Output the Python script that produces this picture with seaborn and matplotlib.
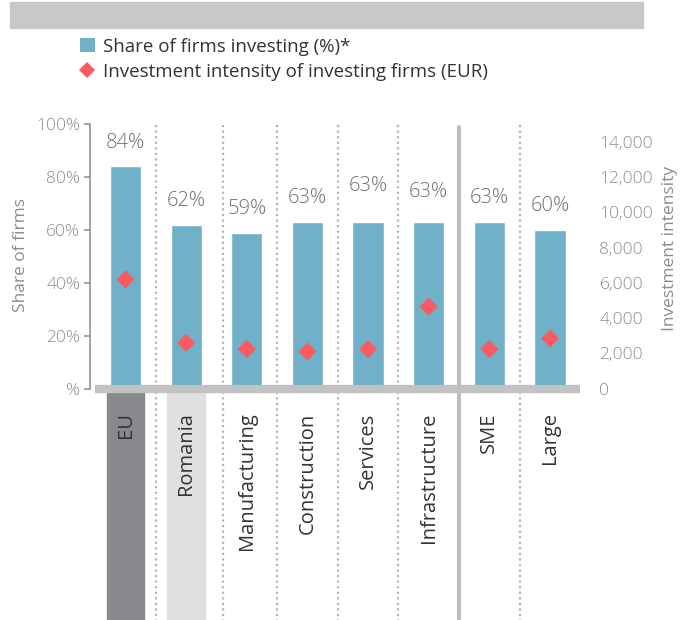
import numpy as np
import pandas as pd
import matplotlib
matplotlib.use('Agg')
import matplotlib.pyplot as plt
import matplotlib.transforms as mtransforms
from matplotlib.patches import Rectangle, Patch
from matplotlib.lines import Line2D
import seaborn as sns

# Dados do gráfico
categories = ['EU', 'Romania', 'Manufacturing', 'Construction', 'Services',
              'Infrastructure', 'SME', 'Large']
share_investing = [84, 62, 59, 63, 63, 63, 63, 60]
intensity = [6200, 2600, 2250, 2100, 2250, 4650, 2250, 2850]
left_ticks = [0, 20, 40, 60, 80, 100]
left_tick_labels = ['%', '20%', '40%', '60%', '80%', '100%']
right_ticks = [0, 2000, 4000, 6000, 8000, 10000, 12000, 14000]
# deslocamento vertical dos rótulos (pontos)
label_offsets = [17, 17, 17, 17, 26, 21.5, 17, 17]

bar_color = '#70B0C8'
diamond_color = '#FA5A60'
axis_grey = '#C2C2C2'
tick_grey = '#8C8C8C'

df = pd.DataFrame({'category': categories, 'share': share_investing, 'intensity': intensity})

sns.set_style('white')
plt.rcParams['font.family'] = ['Open Sans', 'DejaVu Sans']
plt.rcParams['font.weight'] = 'light'

fig = plt.figure(figsize=(6.82, 6.2), dpi=100)
ax = fig.add_axes([0.132, 0.373, 0.7185, 0.427])

sns.barplot(data=df, x='category', y='share', color=bar_color, width=0.516,
            saturation=1, ax=ax)
ax.set_ylim(0, 100)
ax.set_xlim(-0.585, 7.495)

# Rótulos das barras
for i, (v, off) in enumerate(zip(share_investing, label_offsets)):
    ax.annotate(f'{v}%', (i, v), xytext=(0, off), textcoords='offset points',
                ha='center', va='center', fontsize=14.5, color='#707070')

# Eixo esquerdo
for s in ['top', 'right']:
    ax.spines[s].set_visible(False)
ax.spines['left'].set_color(tick_grey)
ax.spines['left'].set_linewidth(1.1)
ax.spines['bottom'].set_color(axis_grey)
ax.spines['bottom'].set_linewidth(6)
ax.spines['bottom'].set_capstyle('butt')
ax.spines['bottom'].set_bounds(-0.5, 7.5)
ax.set_yticks(left_ticks)
ax.set_yticklabels(left_tick_labels)
ax.tick_params(axis='y', colors=tick_grey, labelsize=12.5, direction='out',
               length=4, width=1.1, left=True, pad=3)
ax.set_ylabel('Share of firms', color=tick_grey, fontsize=12.5)
ax.yaxis.set_label_coords(-0.125, 0.505)
ax.set_xlabel('')
ax.set_xticks(range(len(categories)))
ax.set_xticklabels(categories, rotation=90, va='top', ha='center',
                   fontweight='normal')
ax.tick_params(axis='x', length=0, pad=17, labelsize=14.5, labelcolor='#333333')

# Eixo direito
ax2 = ax.twinx()
sns.scatterplot(x=np.arange(len(categories)), y=intensity, marker='D', s=85,
                color=diamond_color, edgecolor='none', ax=ax2, zorder=5)
ax2.set_ylim(0, 15000)
ax2.set_xlim(-0.585, 7.495)
ax2.set_yticks(right_ticks)
ax2.set_yticklabels([f'{t:,}' for t in right_ticks])
ax2.tick_params(axis='y', colors=tick_grey, labelsize=12.5, length=0, pad=14)
for s in ax2.spines.values():
    s.set_visible(False)
ax2.set_ylabel('Investment intensity', color=tick_grey, fontsize=12.5, rotation=90)
ax2.yaxis.set_label_coords(1.167, 0.53)

# Caixas atrás dos rótulos EU e Romania
trans = mtransforms.blended_transform_factory(ax.transData, ax.transAxes)
bottom_y = -(620 - 388.7) / 264.7
for idx, col in [(0, '#87898C'), (1, '#E0E0E0')]:
    ax.add_patch(Rectangle((idx - 0.31, bottom_y), 0.62, -0.016 - bottom_y,
                           transform=trans, color=col, clip_on=False, zorder=0))

# Separadores verticais
for xs in [0.5, 1.6, 2.5, 3.5, 4.5, 6.5]:
    ax.plot([xs, xs], [0.995, bottom_y], transform=trans, color='#B5B5B5',
            linestyle=(0, (1, 1.5)), linewidth=1.6, clip_on=False, zorder=1)
ax.plot([5.5, 5.5], [0.99, bottom_y], transform=trans, color='#BDBDBD',
        linewidth=3, clip_on=False, zorder=1)

# Faixa cinza no topo
fig.patches.append(Rectangle((10 / 682, 1 - 28 / 620), 633 / 682, 26 / 620,
                             transform=fig.transFigure, color='#C8C8C6', zorder=0))

# Legenda
handles = [Patch(facecolor=bar_color, edgecolor='none'),
           Line2D([], [], marker='D', linestyle='none', color=diamond_color,
                  markersize=8, markeredgewidth=0)]
fig.legend(handles, ['Share of firms investing (%)*',
                     'Investment intensity of investing firms (EUR)'],
           loc='upper left', bbox_to_anchor=(72 / 682, 1 - 30 / 620), frameon=False,
           prop={'size': 13.5, 'weight': 'normal'}, handlelength=0.8,
           handleheight=0.8, handletextpad=0.45, labelspacing=0.4,
           labelcolor='#333333', borderaxespad=0)

fig.savefig('out.png', dpi=100)
